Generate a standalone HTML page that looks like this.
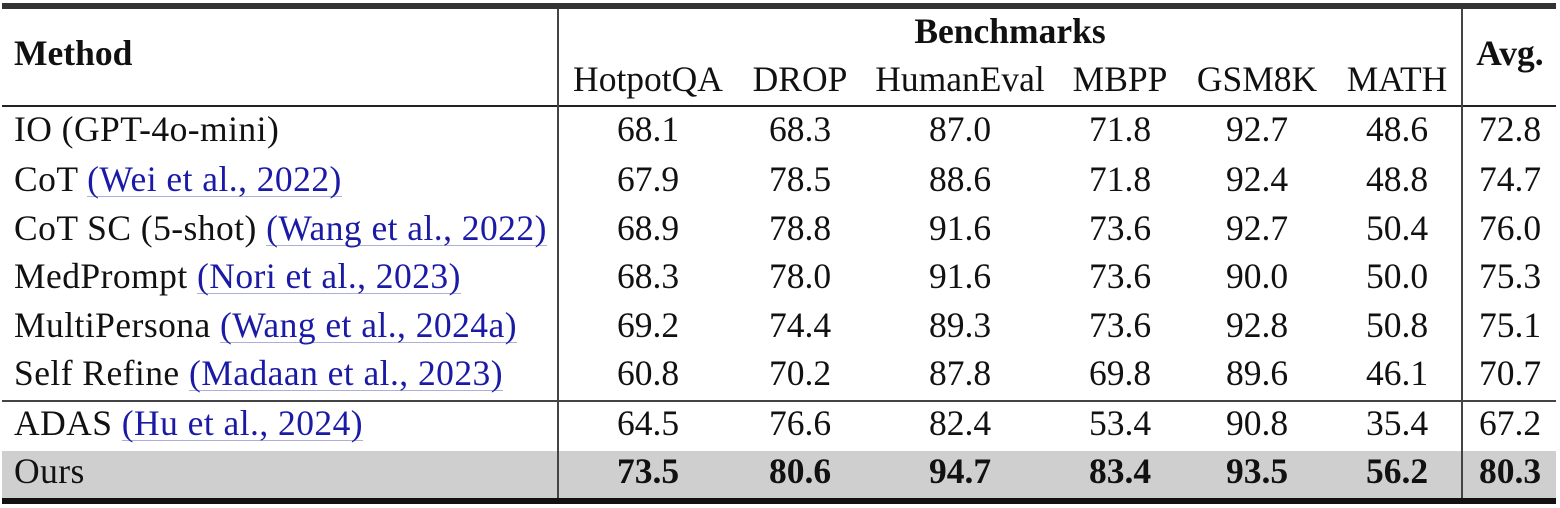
<!DOCTYPE html>
<html><head><meta charset="utf-8"><style>
body{margin:0;width:1560px;height:508px;background:#fff;position:relative;overflow:hidden;font-family:"Liberation Serif",serif;font-size:35.5px;color:#111}
.a{position:absolute;white-space:nowrap;line-height:40px}
.c{transform:translateX(-50%)}
.m{letter-spacing:0.45px}
.h{position:absolute;left:2px;width:1554px;background:#222}
.v{position:absolute;width:2px;background:#444}
.l{color:#1a1aa6;border-bottom:1.5px solid #aab0d8;line-height:33px;display:inline-block}
b{font-weight:bold}
</style></head><body>
<div style="position:absolute;left:2px;top:451px;width:1554px;height:47px;background:#cfcfcf"></div>
<div class="h" style="top:3px;height:6px;background:#333"></div>
<div class="h" style="top:105px;height:2px"></div>
<div class="h" style="top:400px;height:2px;background:#444"></div>
<div class="h" style="top:498px;height:6px;background:#111"></div>
<div class="v" style="left:557px;top:9px;height:489px"></div>
<div class="v" style="left:1461px;top:9px;height:489px"></div>

<div class="a" style="left:14px;top:33px"><b>Method</b></div>
<div class="a c" style="left:1010px;top:11px"><b>Benchmarks</b></div>
<div class="a c" style="left:1510px;top:33px"><b>Avg.</b></div>
<div id="hdr"></div>
<script>
var cols=[648,800,960,1120,1257,1397,1510];
var hd=["HotpotQA","DROP","HumanEval","MBPP","GSM8K","MATH"];
var out="";
hd.forEach((t,i)=>out+='<div class="a c" style="left:'+cols[i]+'px;top:59px">'+t+'</div>');
var rows=[
["IO (GPT-4o-mini)","",["68.1","68.3","87.0","71.8","92.7","48.6","72.8"]],
["CoT ","(Wei et al., 2022)",["67.9","78.5","88.6","71.8","92.4","48.8","74.7"]],
["CoT SC (5-shot) ","(Wang et al., 2022)",["68.9","78.8","91.6","73.6","92.7","50.4","76.0"]],
["MedPrompt ","(Nori et al., 2023)",["68.3","78.0","91.6","73.6","90.0","50.0","75.3"]],
["MultiPersona ","(Wang et al., 2024a)",["69.2","74.4","89.3","73.6","92.8","50.8","75.1"]],
["Self Refine ","(Madaan et al., 2023)",["60.8","70.2","87.8","69.8","89.6","46.1","70.7"]],
["ADAS ","(Hu et al., 2024)",["64.5","76.6","82.4","53.4","90.8","35.4","67.2"]],
["Ours","",["73.5","80.6","94.7","83.4","93.5","56.2","80.3"]]];
var ys=[130,180,229,277,326,374,424,472];
rows.forEach((r,k)=>{var t=ys[k]-21;
out+='<div class="a m" style="left:14px;top:'+t+'px">'+r[0]+(r[1]?'<span class="l">'+r[1]+'</span>':'')+'</div>';
r[2].forEach((v,i)=>out+='<div class="a c" style="left:'+cols[i]+'px;top:'+t+'px">'+(k==7?'<b>'+v+'</b>':v)+'</div>');});
document.getElementById("hdr").outerHTML=out;
</script>
</body></html>
